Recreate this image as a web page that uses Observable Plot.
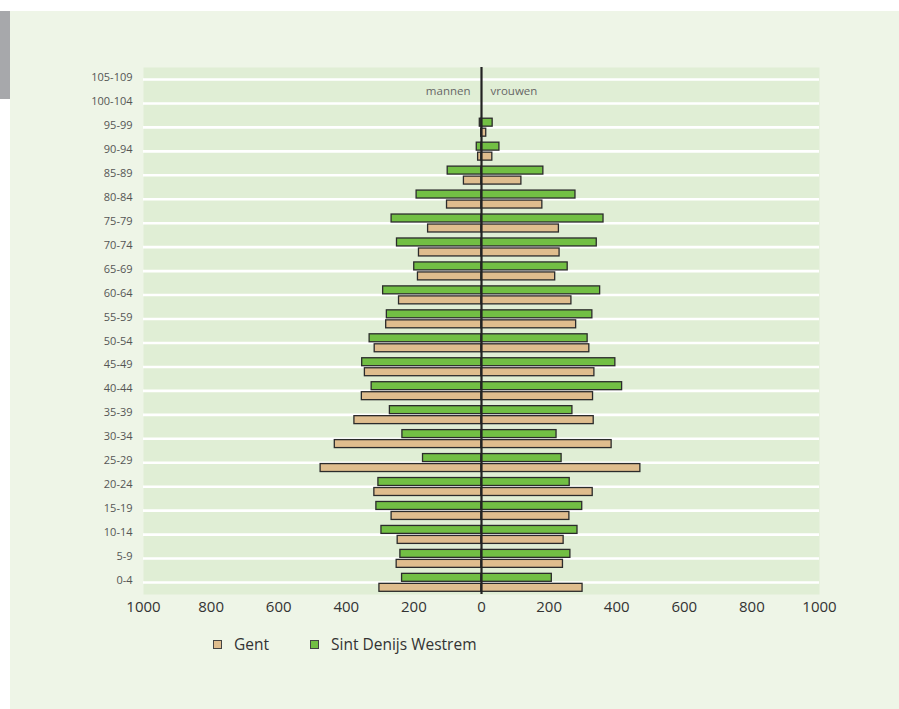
<!DOCTYPE html>
<html>
<head>
<meta charset="utf-8">
<script src="https://cdn.jsdelivr.net/npm/d3@7"></script>
<script src="https://cdn.jsdelivr.net/npm/@observablehq/plot@0.6"></script>
<style>
  html, body { margin: 0; padding: 0; background: #ffffff; }
  body { width: 899px; height: 709px; position: relative; overflow: hidden; font-family: "Open Sans", sans-serif; }
  #panel { position: absolute; left: 10px; top: 11px; width: 889px; height: 698px; background: #eef5e7; }
  #graybar { position: absolute; left: 0; top: 11px; width: 10px; height: 88px; background: #a7a8ab; }
  #chart { position: absolute; left: 0; top: 0; }
  #legend { position: absolute; left: 0; top: 633px; width: 899px; height: 22px; font-size: 15.5px; color: #333; }
  .item { position: absolute; top: 0; display: flex; align-items: center; height: 22px; }
  .sw { width: 7px; height: 7px; border: 1.3px solid #444; margin-right: 12px; }
</style>
</head>
<body>
<div id="panel"></div>
<div id="graybar"></div>
<div id="chart"></div>
<div id="legend"></div>
<script>
// Age groups, top to bottom
const ages = ["105-109","100-104","95-99","90-94","85-89","80-84","75-79","70-74","65-69","60-64","55-59","50-54","45-49","40-44","35-39","30-34","25-29","20-24","15-19","10-14","5-9","0-4"];
// Gent (tan) - men (left) and women (right)
const gentMannen  = [0, 0, 1, 10, 52, 102, 158, 185, 188, 244, 282, 316, 345, 354, 376, 434, 476, 317, 266, 248, 251, 302];
const gentVrouwen = [0, 0, 14, 32, 118, 180, 229, 231, 218, 266, 280, 319, 334, 330, 332, 385, 470, 329, 260, 243, 241, 299];
// Sint Denijs Westrem (green) - men (left) and women (right)
const sdwMannen   = [0, 0, 5, 14, 100, 192, 266, 250, 199, 291, 280, 331, 353, 325, 271, 234, 173, 305, 311, 296, 240, 235];
const sdwVrouwen  = [0, 0, 33, 53, 183, 278, 361, 341, 255, 351, 328, 314, 396, 416, 269, 222, 237, 261, 298, 284, 263, 208];
const xTicks = [-1000, -800, -600, -400, -200, 0, 200, 400, 600, 800, 1000];
const series = [
  {name: "Gent", color: "#dfbd8e"},
  {name: "Sint Denijs Westrem", color: "#72bf44"}
];

const gent = ages.map((a, i) => ({age: a, man: -gentMannen[i], vrouw: gentVrouwen[i]}));
const sdw = ages.map((a, i) => ({age: a, man: -sdwMannen[i], vrouw: sdwVrouwen[i]}));

const barStroke = "#2b2b2b";
const plot = Plot.plot({
  width: 899,
  height: 625,
  marginLeft: 143,
  marginRight: 80,
  marginTop: 67,
  marginBottom: 31,
  style: {background: "transparent", fontFamily: "'Open Sans', sans-serif"},
  x: {domain: [-1000, 1000], ticks: xTicks, tickFormat: d => String(Math.abs(d))},
  y: {type: "band", domain: ages, padding: 0, round: false},
  marks: [
    Plot.frame({fill: "#e0eed5", stroke: null}),
    Plot.ruleY(ages, {y: d => d, stroke: "#ffffff", strokeWidth: 2.6}),
    Plot.barX(sdw, {x: "man", y: "age", fill: series[1].color, stroke: barStroke, strokeWidth: 1.3, insetTop: 3.3, insetBottom: 12.7}),
    Plot.barX(sdw, {x: "vrouw", y: "age", fill: series[1].color, stroke: barStroke, strokeWidth: 1.3, insetTop: 3.3, insetBottom: 12.7}),
    Plot.barX(gent, {x: "man", y: "age", fill: series[0].color, stroke: barStroke, strokeWidth: 1.3, insetTop: 13.3, insetBottom: 2.7}),
    Plot.barX(gent, {x: "vrouw", y: "age", fill: series[0].color, stroke: barStroke, strokeWidth: 1.3, insetTop: 13.3, insetBottom: 2.7}),
    Plot.ruleX([0], {stroke: "#222222", strokeWidth: 2.2}),
    Plot.text(["mannen"], {x: 0, y: () => "100-104", text: d => d, dx: -11, dy: -12, textAnchor: "end", fill: "#666", fontSize: 11.5}),
    Plot.text(["vrouwen"], {x: 0, y: () => "100-104", text: d => d, dx: 9, dy: -12, textAnchor: "start", fill: "#666", fontSize: 11.5}),
    Plot.axisX({ticks: xTicks, tickFormat: d => String(Math.abs(d)), tickSize: 0, tickPadding: 7, fontSize: 15, color: "#333", label: null}),
    Plot.axisY({tickSize: 0, tickPadding: 11, fontSize: 11, color: "#555", label: null, dy: -2})
  ]
});
document.getElementById("chart").appendChild(plot);

const legend = document.getElementById("legend");
const positions = [213, 310];
series.forEach((s, i) => {
  const it = document.createElement("div");
  it.className = "item";
  it.style.left = positions[i] + "px";
  const sw = document.createElement("span");
  sw.className = "sw";
  sw.style.background = s.color;
  const tx = document.createElement("span");
  tx.textContent = s.name;
  it.appendChild(sw);
  it.appendChild(tx);
  legend.appendChild(it);
});
</script>
</body>
</html>
